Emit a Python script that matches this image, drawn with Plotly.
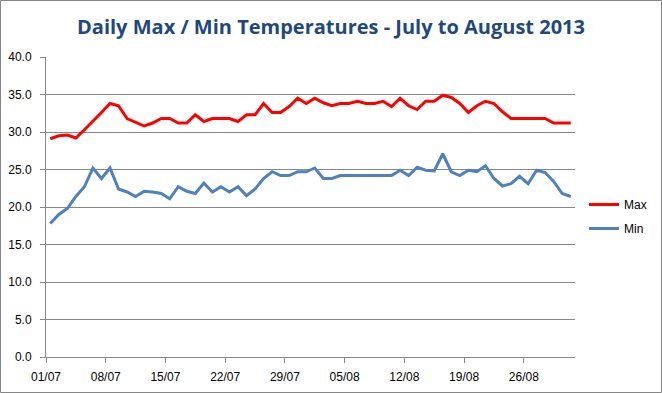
import pandas as pd
import plotly.graph_objects as go

start_date = "2013-07-01"
end_date = "2013-09-01"
n_days = 62

max_temps = [29.1, 29.5, 29.6, 29.2, 30.3, 31.4, 32.6, 33.8, 33.5, 31.8,
             31.3, 30.8, 31.2, 31.8, 31.8, 31.2, 31.2, 32.3, 31.4, 31.8,
             31.8, 31.8, 31.4, 32.3, 32.3, 33.8, 32.6, 32.6, 33.4, 34.5,
             33.8, 34.5, 33.9, 33.5, 33.8, 33.8, 34.1, 33.8, 33.8, 34.1,
             33.4, 34.5, 33.5, 33.0, 34.1, 34.1, 34.9, 34.6, 33.8, 32.6,
             33.5, 34.1, 33.8, 32.7, 31.8, 31.8, 31.8, 31.8, 31.8, 31.2,
             31.2, 31.2]
min_temps = [17.8, 19.0, 19.8, 21.4, 22.7, 25.2, 23.8, 25.2, 22.4, 22.0,
             21.4, 22.1, 22.0, 21.8, 21.1, 22.7, 22.1, 21.8, 23.2, 22.0,
             22.7, 22.0, 22.7, 21.5, 22.4, 23.8, 24.7, 24.2, 24.2, 24.7,
             24.7, 25.2, 23.8, 23.8, 24.2, 24.2, 24.2, 24.2, 24.2, 24.2,
             24.2, 24.9, 24.2, 25.3, 24.9, 24.8, 27.1, 24.7, 24.2, 24.9,
             24.7, 25.5, 23.8, 22.8, 23.1, 24.1, 23.1, 24.9, 24.6, 23.4,
             21.8, 21.4]

dates = pd.date_range(start_date, periods=n_days) + pd.Timedelta(hours=12)

W, H = 662, 393
ml, mr, mt, mb = 46, 87, 57, 36
pw, ph = W - ml - mr, H - mt - mb

fig = go.Figure()
fig.add_trace(go.Scatter(x=dates, y=max_temps, name="Max", mode="lines",
                         legendgroup="max",
                         line=dict(color="#FF0000", width=3)))
fig.add_trace(go.Scatter(x=dates, y=min_temps, name="Min", mode="lines",
                         legendgroup="min",
                         line=dict(color="#4F81BD", width=3)))

axis_col = "#868686"
fig.update_layout(
    width=W, height=H, autosize=False,
    margin=dict(l=ml, r=mr, t=mt, b=mb, autoexpand=False),
    paper_bgcolor="white", plot_bgcolor="white",
    font=dict(family="Liberation Sans, Arial", size=11, color="#000000"),
    title=dict(text="<b>Daily Max / Min Temperatures - July to August 2013</b>",
               x=0.5, xanchor="center", y=0.931, yanchor="middle",
               font=dict(family="Open Sans, Liberation Sans", size=20, color="#1F497D")),
    showlegend=True,
    legend=dict(xref="container", yref="container",
                x=584 / W, xanchor="left", y=1 - 190 / H, yanchor="top",
                bgcolor="rgba(0,0,0,0)", itemwidth=30, tracegroupgap=5,
                font=dict(size=12)),
    xaxis=dict(type="date", range=[start_date, end_date],
               tick0=start_date, dtick=7 * 86400000, tickformat="%d/%m",
               showgrid=False, showline=True, linecolor=axis_col, linewidth=1,
               ticks="outside", ticklen=5, tickcolor=axis_col, zeroline=False,
               ticklabelstandoff=4,
               tickfont=dict(size=12)),
    yaxis=dict(range=[0, 40], dtick=5, tickformat=".1f",
               showgrid=True, gridcolor=axis_col, gridwidth=1,
               showline=True, linecolor=axis_col, linewidth=1,
               ticks="outside", ticklen=5, tickcolor=axis_col, zeroline=False,
               ticklabelstandoff=6,
               tickfont=dict(size=12)),
    shapes=[dict(type="rect", xref="paper", yref="paper",
                 x0=(0.5 - ml) / pw, x1=(W - 0.5 - ml) / pw,
                 y0=(0.5 - mb) / ph, y1=(H - 0.5 - mb) / ph,
                 line=dict(color="#868686", width=1), layer="below")],
)

fig.write_html("out.html",
               config={"responsive": False, "displayModeBar": False},
               post_script="document.body.style.margin='0px';document.body.style.overflow='hidden';")
